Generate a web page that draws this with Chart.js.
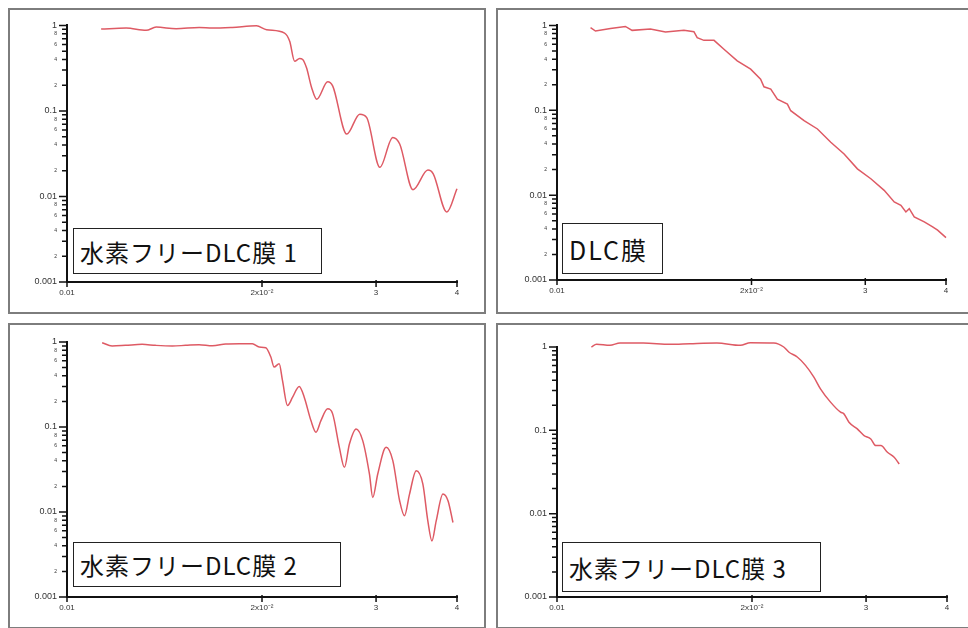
<!DOCTYPE html>
<html>
<head>
<meta charset="utf-8">
<script src="https://cdn.jsdelivr.net/npm/chart.js@4.4.1/dist/chart.umd.min.js"></script>
<style>
  body { margin: 0; background: #fff; width: 968px; height: 628px; overflow: hidden; position: relative; }
  .panel { position: absolute; border: 2px solid #7d7d7d; width: 474px; height: 302px; background: #fff; }
  .tag {
    position: absolute; box-sizing: border-box; border: 1px solid #222; background: #fff;
    display: flex; align-items: center; padding-left: 6px;
    font-family: "Noto Sans CJK JP", sans-serif; font-size: 24px; letter-spacing: 1px; color: #111;
  }
</style>
</head>
<body>
<div class="panel" style="left:8px;top:8px"><canvas id="c1" width="474" height="302"></canvas></div>
<div class="panel" style="left:496px;top:8px"><canvas id="c2" width="474" height="302"></canvas></div>
<div class="panel" style="left:8px;top:323px"><canvas id="c3" width="474" height="302"></canvas></div>
<div class="panel" style="left:496px;top:323px"><canvas id="c4" width="474" height="302"></canvas></div>

<div class="tag" style="left:73px;top:228px;width:249px;height:46px">水素フリーDLC膜 1</div>
<div class="tag" style="left:562px;top:223px;width:101px;height:51px;font-size:25px;letter-spacing:2px">DLC膜</div>
<div class="tag" style="left:73px;top:542px;width:268px;height:45px">水素フリーDLC膜 2</div>
<div class="tag" style="left:562px;top:542px;width:259px;height:50px">水素フリーDLC膜 3</div>

<script>
// --- data (x: log 0.01..0.04, y: log 0.001..1) ---
const free1Q = [0.01129, 0.01234, 0.01325, 0.01373, 0.01474, 0.0160, 0.01677, 0.0180, 0.01961, 0.02033,
  0.02167, 0.02207, 0.02246, 0.02286, 0.02311, 0.02343, 0.02386, 0.0243, 0.02526, 0.02572, 0.02703,
  0.02831, 0.02902, 0.03041, 0.03183, 0.03263, 0.03421, 0.03607, 0.03676, 0.03858, 0.04];
const free1R = [0.906, 0.93, 0.875, 0.955, 0.915, 0.948, 0.93, 0.948, 0.99, 0.89,
  0.814, 0.651, 0.381, 0.41, 0.40, 0.319, 0.187, 0.137, 0.219, 0.195, 0.0536,
  0.0916, 0.0836, 0.0219, 0.049, 0.041, 0.012, 0.0204, 0.0184, 0.00657, 0.0123];

const dlcQ = [0.01127, 0.01147, 0.0121, 0.01276, 0.01307, 0.01395, 0.01472, 0.01572, 0.01629, 0.01648,
  0.01688, 0.0175, 0.01813, 0.01901, 0.01994, 0.02066, 0.02091, 0.02142, 0.02193, 0.02273, 0.023,
  0.02412, 0.0253, 0.02653, 0.02782, 0.02917, 0.0306, 0.03209, 0.03326, 0.03406, 0.03467, 0.03509,
  0.03572, 0.03702, 0.03814, 0.03882, 0.04];
const dlcR = [0.939, 0.858, 0.922, 0.973, 0.874, 0.906, 0.835, 0.874, 0.843, 0.717,
  0.667, 0.667, 0.523, 0.382, 0.305, 0.2325, 0.189, 0.1774, 0.1354, 0.1183, 0.0988,
  0.0754, 0.0602, 0.042, 0.0306, 0.0204, 0.0156, 0.01138, 0.0083, 0.00759, 0.00634, 0.00694,
  0.00554, 0.00484, 0.00423, 0.00386, 0.00316];

const free2Q = [0.01133, 0.01174, 0.01231, 0.01306, 0.0137, 0.01454, 0.01524, 0.01599, 0.01677, 0.01758,
  0.01844, 0.01933, 0.0198, 0.02027, 0.02064, 0.02088, 0.02126, 0.02151, 0.0219, 0.0223, 0.02283,
  0.02324, 0.0238, 0.02423, 0.02466, 0.02526, 0.02571, 0.02633, 0.02681, 0.02729, 0.02794, 0.02861,
  0.0293, 0.02965, 0.03018, 0.03109, 0.03184, 0.03262, 0.03319, 0.03379, 0.0346, 0.03543, 0.03606,
  0.03659, 0.03715, 0.03805, 0.03874, 0.03943];
const free2R = [0.982, 0.897, 0.913, 0.939, 0.913, 0.897, 0.913, 0.93, 0.905, 0.947,
  0.956, 0.956, 0.873, 0.857, 0.665, 0.507, 0.555, 0.353, 0.179, 0.2245, 0.3,
  0.2245, 0.119, 0.0868, 0.119, 0.1635, 0.1427, 0.0577, 0.0335, 0.0632, 0.095, 0.0692,
  0.028, 0.01484, 0.028, 0.0577, 0.0402, 0.01355, 0.00902, 0.01624, 0.0306, 0.0213, 0.00787,
  0.00457, 0.00787, 0.01624, 0.01355, 0.00752];

const free3Q = [0.0113, 0.01151, 0.01207, 0.01251, 0.01359, 0.01495, 0.01605, 0.01765, 0.01919, 0.01988,
  0.02161, 0.02239, 0.02279, 0.02349, 0.02419, 0.02492, 0.02551, 0.02644, 0.0274, 0.02773,
  0.02823, 0.02908, 0.02979, 0.03051, 0.03105, 0.03162, 0.03237, 0.03315, 0.03375];
const free3R = [1.0, 1.077, 1.047, 1.117, 1.117, 1.077, 1.097, 1.117, 1.047, 1.127,
  1.117, 1.0, 0.871, 0.758, 0.602, 0.4355, 0.315, 0.218, 0.165, 0.1576,
  0.1252, 0.104, 0.0865, 0.0788, 0.0656, 0.0656, 0.0545, 0.0475, 0.0395];

const xTickValues = [0.01, 0.02, 0.03, 0.04];
const xTickLabels = ['0.01', '2x10⁻²', '3', '4'];
const yDecades = [0.001, 0.01, 0.1, 1];
const yTickLabels = ['0.001', '0.01', '0.1', '1'];
const yMinorSteps = [2, 3, 4, 5, 6, 7, 8, 9];
const yMinorLabelled = [2, 4, 6, 8];

const LINE = '#de5a64';
const INK = '#333';

// y ticks: each decade plus its 2..9 multiples, tagged with the multiple
const yTicks = [];
yDecades.forEach((d, i) => {
  yTicks.push({ value: d, major: true, label: yTickLabels[i] });
  if (d < 1) yMinorSteps.forEach((m) => yTicks.push({ value: +(m * d).toPrecision(3), major: false, step: m }));
});

// tick marks drawn by hand so decades get longer marks than the minor ones
const tickMarks = {
  id: 'tickMarks',
  afterDraw(chart) {
    const { ctx, chartArea } = chart;
    const ys = chart.scales.y, xs = chart.scales.x;
    ctx.save();
    ctx.strokeStyle = '#111';
    ctx.lineWidth = 1.5;
    ctx.beginPath();
    ys.ticks.forEach((t) => {
      const py = ys.getPixelForValue(t.value);
      ctx.moveTo(chartArea.left, py);
      ctx.lineTo(chartArea.left - (t.major ? 8 : 5), py);
    });
    xs.ticks.forEach((t) => {
      const px = xs.getPixelForValue(t.value);
      ctx.moveTo(px, chartArea.bottom - 2);
      ctx.lineTo(px, chartArea.bottom + 5);
    });
    ctx.stroke();
    ctx.restore();
  },
};

function makePanel(id, q, r, p) {
  return new Chart(document.getElementById(id), {
    type: 'scatter',
    data: {
      datasets: [{
        data: q.map((x, i) => ({ x, y: r[i] })),
        showLine: true,
        borderColor: LINE,
        borderWidth: 1.5,
        pointRadius: 0,
        cubicInterpolationMode: p.jagged ? 'default' : 'monotone',
        tension: 0,
        clip: false,
      }],
    },
    options: {
      responsive: false,
      animation: false,
      layout: { padding: { top: p.top, right: p.right, left: 0, bottom: 0 } },
      plugins: { legend: { display: false }, tooltip: { enabled: false } },
      scales: {
        x: {
          type: 'logarithmic',
          min: 0.01,
          max: 0.04,
          afterBuildTicks: (s) => { s.ticks = xTickValues.map((v) => ({ value: v })); },
          afterFit: (s) => { s.height = p.bottom; },
          grid: { display: false, drawTicks: false },
          border: { display: true, color: '#111', width: 2 },
          ticks: {
            autoSkip: false, maxRotation: 0, padding: 6, color: INK,
            font: { family: 'Liberation Sans', size: 8 },
            callback: (v, i) => xTickLabels[i],
          },
        },
        y: {
          type: 'logarithmic',
          min: 0.001,
          max: 1,
          afterBuildTicks: (s) => { s.ticks = yTicks.map((t) => ({ ...t })); },
          afterFit: (s) => { s.width = p.left; },
          grid: { display: false, drawTicks: false },
          border: { display: true, color: '#111', width: 2 },
          ticks: {
            autoSkip: false, padding: 10, color: INK,
            font: (c) => ({ family: 'Liberation Sans', size: c.tick && c.tick.major ? 9 : 5 }),
            callback: (v, i) => {
              const t = yTicks[i];
              if (t.major) return t.label;
              return p.minorLabels && yMinorLabelled.includes(t.step) ? String(t.step) : '';
            },
          },
        },
      },
    },
    plugins: [tickMarks],
  });
}

makePanel('c1', free1Q, free1R, { left: 57, top: 14, right: 27, bottom: 30, minorLabels: true });
makePanel('c2', dlcQ, dlcR, { left: 59, top: 14, right: 26, bottom: 32, minorLabels: true, jagged: true });
makePanel('c3', free2Q, free2R, { left: 57, top: 17, right: 27, bottom: 30, minorLabels: true });
makePanel('c4', free3Q, free3R, { left: 59, top: 22, right: 25, bottom: 30, minorLabels: false });
</script>
</body>
</html>
